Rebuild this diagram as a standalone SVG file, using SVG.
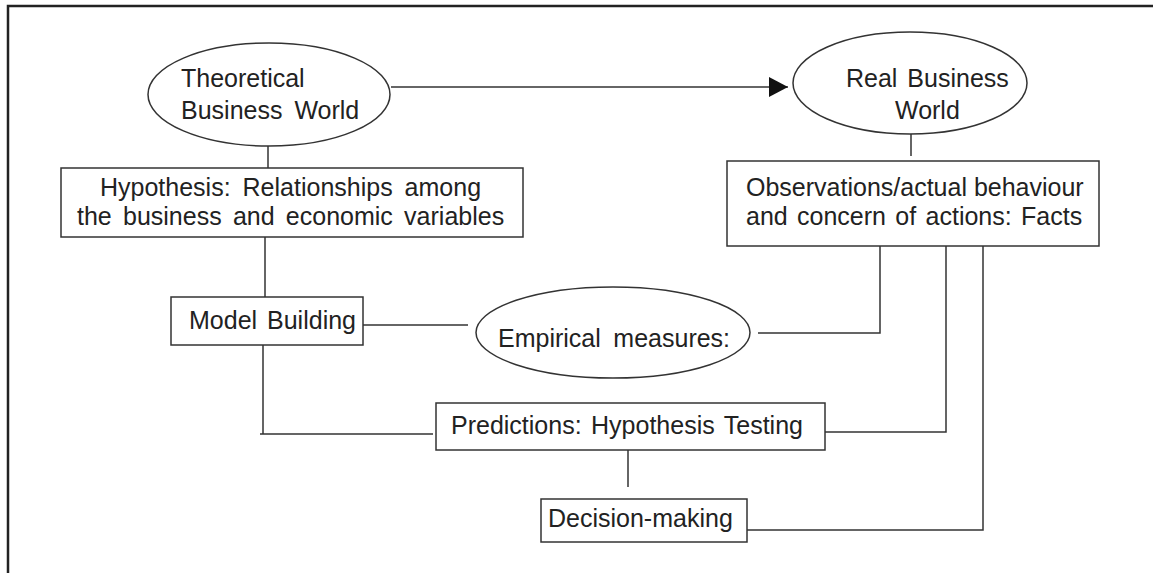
<svg xmlns="http://www.w3.org/2000/svg" width="1153" height="573" viewBox="0 0 1153 573">
<style>
text{font-family:"Liberation Sans",Arial,sans-serif;font-size:25px;fill:#222}
.s{fill:#fff;stroke:#333;stroke-width:1.5}
.c{fill:none;stroke:#333;stroke-width:1.5}
</style>
<defs>
<marker id="ah" markerUnits="userSpaceOnUse" markerWidth="20" markerHeight="22" refX="19" refY="10" orient="auto">
<polygon points="0,0 19,10 0,20" fill="#111"/>
</marker>
</defs>
<rect width="1153" height="573" fill="#fff"/>
<path d="M8,573 V6 H1153" fill="none" stroke="#222" stroke-width="2.5"/>
<g id="connectors">
<path class="c" d="M391,87 H788" marker-end="url(#ah)"/>
<path class="c" d="M268,146 V168"/>
<path class="c" d="M911,134 V156"/>
<path class="c" d="M265,237 V297"/>
<path class="c" d="M363,325 H468"/>
<path class="c" d="M758,333 H880 V243"/>
<path class="c" d="M263,345 V434 M260,434 H433"/>
<path class="c" d="M825,432 H946 V246"/>
<path class="c" d="M628,448 V487"/>
<path class="c" d="M747,530 H983 V246"/>
</g>
<g id="theoretical">
<ellipse class="s" cx="269" cy="94.5" rx="121" ry="51.5"/>
<text x="181" y="87">Theoretical</text>
<text x="181" y="119" word-spacing="5">Business World</text>
</g>
<g id="real">
<ellipse class="s" cx="910" cy="83" rx="117" ry="51"/>
<text x="846" y="87" word-spacing="3">Real Business</text>
<text x="895" y="119">World</text>
</g>
<g id="hypothesis">
<rect class="s" x="61" y="168" width="462" height="69"/>
<text x="100" y="196" word-spacing="5">Hypothesis: Relationships among</text>
<text x="77" y="225" word-spacing="4.3">the business and economic variables</text>
</g>
<g id="observations">
<rect class="s" x="727" y="161" width="372" height="85"/>
<text x="746" y="196">Observations/actual behaviour</text>
<text x="746" y="225" word-spacing="2.4">and concern of actions: Facts</text>
</g>
<g id="model">
<rect class="s" x="171" y="297" width="192" height="48"/>
<text x="189" y="329" word-spacing="3">Model Building</text>
</g>
<g id="empirical">
<ellipse class="s" cx="613" cy="332.5" rx="137" ry="45.5"/>
<text x="498" y="347" word-spacing="5.6">Empirical measures:</text>
</g>
<g id="predictions">
<rect class="s" x="436" y="403" width="389" height="47"/>
<text x="451" y="434" word-spacing="2.5">Predictions: Hypothesis Testing</text>
</g>
<g id="decision">
<rect class="s" x="541" y="499" width="206" height="43"/>
<text x="548" y="527">Decision-making</text>
</g>
</svg>
